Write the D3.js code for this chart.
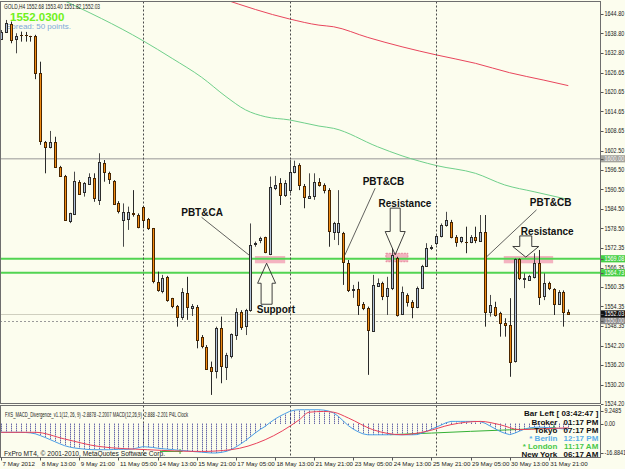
<!DOCTYPE html>
<html>
<head>
<meta charset="utf-8">
<script src="https://cdnjs.cloudflare.com/ajax/libs/d3/7.8.5/d3.min.js"></script>
<style>
  body { margin: 0; background: #fcfdee; }
  svg { display: block; }
</style>
</head>
<body>
<svg id="contenedor"></svg>
<script>
/* ############################## DATOS ############################## */
// velas GOLD H4 (7 May 05:00 -> 1 Jun 13:00)
let aperturas = [1637.0,1639.1,1641.7,1636.9,1638.3,1638.2,1637.8,1637.9,1626.4,1605.3,1603.7,1605.3,1597.5,1594.7,1580.5,1583.1,1592.9,1589.7,1592.2,1594.0,
  1587.3,1598.6,1595.5,1593.2,1586.2,1581.1,1581.3,1583.1,1582.6,1585.2,1581.3,1578.5,1562.0,1558.9,1563.5,1556.9,1554.5,1551.2,1558.6,1554.0,
  1554.3,1544.8,1541.9,1535.5,1534.2,1547.6,1535.7,1538.8,1545.5,1552.7,1548.1,1553.2,1573.8,1574.9,1575.7,1570.8,1591.0,1592.4,1588.8,1590.3,
  1596.0,1598.1,1591.7,1588.0,1588.5,1592.9,1591.9,1590.3,1577.1,1577.1,1577.1,1567.7,1559.4,1559.6,1555.1,1553.8,1546.8,1560.7,1561.5,1557.4,
  1560.0,1569.2,1552.0,1557.9,1555.8,1554.1,1560.1,1566.8,1572.4,1573.9,1576.1,1579.5,1580.5,1575.9,1574.4,1574.4,1574.4,1575.7,1574.7,1577.5,
  1552.7,1554.3,1552.2,1549.1,1548.6,1537.3,1568.9,1562.7,1562.7,1563.5,1567.9,1557.6,1561.7,1559.6,1555.1,1558.7,1552.68];
let maximos = [1639.8,1642.9,1642.4,1638.8,1639.3,1639.2,1638.0,1638.3,1630.0,1605.5,1608.6,1606.8,1597.8,1595.0,1583.3,1596.0,1593.4,1592.8,1595.5,1595.5,
  1601.7,1599.6,1596.0,1593.4,1586.9,1586.2,1585.2,1590.3,1583.1,1585.4,1581.7,1578.6,1565.1,1564.1,1563.8,1557.0,1554.8,1560.0,1563.5,1555.1,
  1554.8,1545.5,1542.4,1537.3,1548.1,1551.2,1540.0,1546.0,1553.8,1553.2,1553.6,1580.0,1574.4,1575.9,1575.9,1594.5,1594.7,1594.0,1593.4,1599.6,
  1599.4,1598.6,1592.2,1595.5,1595.5,1594.0,1592.4,1590.9,1580.5,1590.3,1577.4,1568.7,1561.0,1562.0,1555.7,1554.3,1564.1,1563.0,1562.0,1563.5,
  1572.3,1569.7,1560.5,1558.4,1556.3,1560.5,1567.2,1573.9,1573.3,1576.4,1580.0,1583.6,1581.1,1576.4,1575.9,1579.0,1576.4,1579.0,1582.6,1582.6,
  1557.9,1555.8,1552.7,1550.7,1556.9,1569.2,1569.2,1564.6,1564.1,1570.8,1571.8,1564.6,1562.0,1560.0,1559.4,1559.3,1553.40];
let minimos = [1636.7,1638.9,1635.7,1632.6,1636.2,1636.2,1636.2,1624.6,1604.3,1595.5,1603.2,1597.5,1594.4,1580.8,1580.1,1582.6,1588.8,1588.3,1591.9,1586.7,
  1585.7,1592.9,1592.2,1585.7,1583.1,1572.8,1578.0,1582.1,1578.5,1578.5,1578.0,1561.5,1558.9,1558.4,1555.8,1553.8,1548.1,1550.2,1550.2,1551.4,
  1541.4,1541.4,1534.7,1527.0,1532.1,1530.6,1531.6,1538.3,1544.0,1547.1,1545.5,1552.7,1572.8,1573.9,1570.8,1570.2,1590.3,1585.7,1588.2,1589.3,
  1595.5,1590.3,1584.7,1587.8,1587.3,1591.4,1589.3,1572.8,1574.9,1573.3,1561.0,1558.8,1557.0,1551.7,1553.2,1533.2,1546.5,1560.4,1556.3,1551.7,
  1559.4,1551.2,1551.7,1554.3,1550.7,1553.8,1560.0,1566.6,1571.8,1573.3,1575.7,1579.0,1575.4,1572.8,1573.9,1570.8,1573.9,1573.9,1574.4,1548.1,
  1551.2,1551.2,1545.0,1545.0,1532.6,1537.0,1562.5,1560.0,1562.5,1563.0,1554.8,1556.3,1559.4,1551.7,1554.8,1548.1,1551.82];
let cierres = [1639.2,1641.9,1636.7,1637.9,1638.2,1638.1,1637.7,1626.4,1605.3,1603.7,1605.3,1597.5,1594.7,1581.1,1583.1,1593.2,1589.3,1592.5,1594.3,1587.8,
  1598.9,1595.7,1593.6,1586.2,1583.6,1583.6,1583.4,1582.8,1579.0,1581.3,1578.5,1562.0,1559.4,1563.0,1556.3,1554.3,1551.2,1558.9,1554.3,1554.5,
  1544.0,1541.9,1535.2,1534.2,1547.6,1535.7,1539.3,1545.7,1552.7,1548.1,1553.2,1573.3,1574.0,1575.4,1571.0,1591.4,1591.9,1588.8,1592.4,1596.0,
  1597.9,1591.9,1588.3,1588.6,1592.8,1591.9,1590.3,1577.5,1580.0,1580.0,1568.2,1559.4,1559.6,1554.8,1553.8,1547.1,1561.0,1561.5,1557.4,1560.0,
  1570.2,1551.7,1558.9,1555.8,1554.1,1560.1,1566.8,1572.3,1572.7,1576.1,1579.5,1581.1,1575.9,1574.4,1575.7,1574.3,1575.9,1574.7,1577.5,1552.7,
  1554.8,1551.7,1549.1,1548.4,1537.3,1568.9,1563.0,1563.0,1563.9,1567.9,1557.4,1561.7,1560.0,1555.1,1558.8,1552.4,1552.03];

// medias moviles [barra, precio]
let mediaVerde = [[12,1649.5],[29,1636.5],[35,1631.0],[41,1625.2],[46,1619.2],[50,1615.1],[54,1613.0],[59,1612.0],[65,1610.1],[68,1609.4],
  [77,1603.7],[82,1600.9],[89,1597.9],[97,1595.5],[103,1591.9],[109,1589.8],[116,1587.4]];
let mediaRoja = [[45,1649.6],[59,1643.2],[65,1641.3],[68,1640.8],[75,1637.5],[82,1634.6],[89,1632.1],[97,1629.5],[104,1626.6],[111,1624.3],[116,1622.6]];

// niveles horizontales
let nivelesVerdes = [1569.08, 1564.73];
let nivelRedondo = 1600.00;
let precioBid = 1552.03;
let nivelPunteado = 1550.00;

// eje de precios
let etiquetasPrecio = [1644.80,1638.80,1632.80,1626.65,1620.65,1614.65,1608.65,1602.50,1596.50,1590.50,1584.50,1578.50,
  1572.35,1566.35,1560.35,1554.35,1548.35,1542.20,1536.20,1530.20,1524.20];

// eje de tiempo
let barrasTiempo = [0,8,16,24,32,40,48,56,64,72,80,88,96,104,112];
let etiquetasTiempo = ["7 May 2012","8 May 13:00","9 May 21:00","11 May 05:00","14 May 13:00","15 May 21:00","17 May 05:00",
  "18 May 13:00","21 May 21:00","23 May 05:00","24 May 13:00","25 May 21:00","29 May 05:00","30 May 13:00","31 May 21:00"];
let separadores = [29, 59, 89];

// MACD (principal por barra) y senal [barra, valor]
let macd = [-4.5,-4.5,-4.5,-4.5,-4.5,-4.6,-4.8,-5.3,-6.2,-7.2,-8.3,-9.4,-10.5,-11.5,-12.2,-12.7,-13.0,-13.3,-13.5,-13.6,
  -13.6,-13.6,-13.6,-13.5,-13.4,-13.4,-13.4,-13.2,-12.6,-12.0,-12.2,-12.4,-12.8,-13.1,-13.3,-13.5,-13.8,-14.0,-14.2,-14.5,
  -14.7,-14.9,-15.1,-15.3,-15.3,-15.0,-14.5,-13.6,-12.2,-10.6,-8.8,-6.8,-4.8,-3.0,-1.4,0.6,2.4,3.9,5.2,6.4,
  7.1,7.3,7.3,7.3,7.3,7.3,7.1,6.6,5.6,3.8,1.4,-1.0,-2.8,-4.2,-5.3,-5.8,-5.8,-5.8,-5.8,-5.8,
  -5.7,-5.8,-5.8,-5.8,-5.8,-5.7,-5.0,-4.0,-2.9,-1.8,-0.7,0.5,1.2,1.2,1.2,1.2,1.2,1.2,1.1,0.2,
  -1.2,-2.6,-4.0,-5.0,-5.7,-5.0,-3.9,-2.9,-2.2,-1.9,-1.8,-1.9,-2.1,-2.3,-2.5,-2.7,-2.89];
let senal = [[0,-4.5],[7,-4.5],[13,-8.0],[20,-11.9],[30,-13.6],[41,-14.5],[47,-13.6],[54,-8.4],[61,2.1],[63,6.0],[66,6.4],[68,6.0],
  [71,3.0],[76,-3.1],[82,-5.75],[87,-4.0],[92,-0.5],[98,1.2],[102,-0.5],[106,-3.1],[111,-2.6],[116,-2.2]];
let divergencias = [
  [[32.5,-14.5],[36.6,-14.5]],
  [[79.5,-5.75],[88,-4.9],[96,-4.0],[104,-3.2],[113,-2.2]]
];
let etiquetasMacd = [9.2485, 0.00, -16.8841];

// reloj P4L
let relojNombres = ["Broker","Tokyo","* Berlin","* London","New York"];
let relojHoras = ["01:17 PM","07:17 PM","12:17 PM","11:17 AM","06:17 AM"];

/* ##################### CONFIGURACION AREA DE DIBUJO ##################### */
function getConfig() {
  let width = 625;
  let height = 469;
  let principal = { x0: 0.5, x1: 600.5, y0: 1.5, y1: 403.5 };
  let indicador = { y0: 405.5, y1: 457.5 };
  let container = d3.select("#contenedor").attr("width", width).attr("height", height);
  return { width, height, principal, indicador, container };
} // fin getConfig

function getScales() {
  let xScale = d3.scaleLinear().domain([0, 116]).range([1.1, 568.3]);
  let yScale = d3.scaleLinear().domain([1524.19, 1649.07]).range([404, 0]);
  let yMacd = d3.scaleLinear().domain([-16.8841, 9.2485]).range([456, 406]);
  return { xScale, yScale, yMacd };
} // fin getScales

let FUENTE = "'Liberation Sans', Arial, sans-serif";

/* ############################## FONDO Y MARCOS ############################## */
function dibujarFondo(config) {
  let { container, width, height, principal, indicador } = config;
  container.append("rect").attr("width", width).attr("height", height).attr("fill", "#fcfdee");

  let defs = container.append("defs");
  defs.append("clipPath").attr("id", "clipPrincipal").append("rect")
    .attr("x", principal.x0).attr("y", principal.y0)
    .attr("width", principal.x1 - principal.x0).attr("height", principal.y1 - principal.y0);
  defs.append("clipPath").attr("id", "clipIndicador").append("rect")
    .attr("x", principal.x0).attr("y", indicador.y0)
    .attr("width", principal.x1 - principal.x0).attr("height", indicador.y1 - indicador.y0);
} // fin dibujarFondo

function dibujarMarcos(config) {
  let { container, principal, indicador } = config;
  container.append("rect")
    .attr("x", principal.x0).attr("y", principal.y0)
    .attr("width", principal.x1 - principal.x0).attr("height", principal.y1 - principal.y0)
    .attr("fill", "none").attr("stroke", "#6e6e6e");
  container.append("rect")
    .attr("x", principal.x0).attr("y", indicador.y0)
    .attr("width", principal.x1 - principal.x0).attr("height", indicador.y1 - indicador.y0)
    .attr("fill", "none").attr("stroke", "#6e6e6e");
} // fin dibujarMarcos

/* ############################## PANEL PRINCIPAL ############################## */
function dibujarNiveles(scales, config, capa) {
  let { xScale, yScale } = scales;
  let { principal, indicador } = config;

  // separadores de semana
  config.container.selectAll(".separador").data(separadores).enter()
    .append("line").attr("class", "separador")
    .attr("x1", d => Math.round(xScale(d)) + 0.5).attr("x2", d => Math.round(xScale(d)) + 0.5)
    .attr("y1", principal.y0).attr("y2", indicador.y1)
    .attr("stroke", "#4a4a4a").attr("stroke-dasharray", "2,2");

  // nivel 1600
  capa.append("line")
    .attr("x1", 0).attr("x2", principal.x1)
    .attr("y1", yScale(nivelRedondo)).attr("y2", yScale(nivelRedondo))
    .attr("stroke", "#b9b9b4").attr("stroke-width", 1.6);

  // linea bid y linea punteada
  capa.append("line")
    .attr("x1", 0).attr("x2", principal.x1)
    .attr("y1", Math.round(yScale(precioBid)) + 0.5).attr("y2", Math.round(yScale(precioBid)) + 0.5)
    .attr("stroke", "#cfcfbf");
  capa.append("line")
    .attr("x1", 0).attr("x2", principal.x1)
    .attr("y1", Math.round(yScale(nivelPunteado)) + 0.5).attr("y2", Math.round(yScale(nivelPunteado)) + 0.5)
    .attr("stroke", "#9a9a9a").attr("stroke-dasharray", "2,2");
} // fin dibujarNiveles

function dibujarZonas(scales, capa) {
  let { xScale, yScale } = scales;
  // zonas rosas [barra ini, barra fin, precio alto, precio bajo]
  let zonas = [[51.9, 58.1, 1569.93, 1567.68], [78.7, 83.2, 1570.77, 1568.17], [102.8, 112.9, 1569.93, 1567.68]];
  capa.selectAll(".zona").data(zonas).enter()
    .append("rect").attr("class", "zona")
    .attr("x", d => xScale(d[0])).attr("width", d => xScale(d[1]) - xScale(d[0]))
    .attr("y", d => yScale(d[2])).attr("height", d => yScale(d[3]) - yScale(d[2]))
    .attr("fill", "#f4b3c0")
    .attr("stroke", (d, i) => i == 1 ? "#e78a9c" : "none")
    .attr("stroke-dasharray", "2,1");
} // fin dibujarZonas

function dibujarMedias(scales, capa) {
  let { xScale, yScale } = scales;
  let linea = d3.line().x(d => xScale(d[0])).y(d => yScale(d[1])).curve(d3.curveMonotoneX);
  capa.append("path").datum(mediaVerde).attr("d", linea)
    .attr("fill", "none").attr("stroke", "#6fcf8a").attr("stroke-width", 1);
  capa.append("path").datum(mediaRoja).attr("d", linea)
    .attr("fill", "none").attr("stroke", "#e8455c").attr("stroke-width", 1);
} // fin dibujarMedias

function dibujarLineasVerdes(scales, config, capa) {
  let { yScale } = scales;
  capa.selectAll(".nivelVerde").data(nivelesVerdes).enter()
    .append("line").attr("class", "nivelVerde")
    .attr("x1", 0).attr("x2", config.principal.x1)
    .attr("y1", d => yScale(d)).attr("y2", d => yScale(d))
    .attr("stroke", "#52d452").attr("stroke-width", 2);
} // fin dibujarLineasVerdes

function dibujarCabecera(config) {
  let c = config.container;
  c.append("text").attr("x", 4).attr("y", 9.3)
    .attr("textLength", 96).attr("lengthAdjust", "spacingAndGlyphs")
    .style("font", "7.2px " + FUENTE).attr("fill", "#1a1a1a")
    .text("GOLD,H4  " + aperturas[116].toFixed(2) + " " + maximos[116].toFixed(2) + " " + minimos[116].toFixed(2) + " " + cierres[116].toFixed(2));
  c.append("text").attr("x", 10).attr("y", 20.5)
    .style("font", "bold 11.5px " + FUENTE).attr("fill", "#70f020")
    .text(cierres[116].toFixed(4));
  c.append("text").attr("x", 6).attr("y", 28.5)
    .style("font", "8px " + FUENTE).attr("fill", "#7eaad8")
    .text("Spread: 50 points.");
} // fin dibujarCabecera

function dibujarVelas(scales, capa) {
  let { xScale, yScale } = scales;
  let velas = aperturas.map((o, i) => ({ i: i, o: o, h: maximos[i], l: minimos[i], c: cierres[i] }));

  let grupo = capa.selectAll(".vela").data(velas).enter().append("g").attr("class", "vela");

  // mechas
  grupo.append("line")
    .attr("x1", d => Math.round(xScale(d.i)) + 0.5).attr("x2", d => Math.round(xScale(d.i)) + 0.5)
    .attr("y1", d => yScale(d.h)).attr("y2", d => yScale(d.l))
    .attr("stroke", d => d.c >= d.o ? "#4a4a4a" : "#2a2a2a");

  // cuerpos
  grupo.append("rect")
    .attr("x", d => Math.round(xScale(d.i)) - 0.5)
    .attr("width", 2)
    .attr("y", d => Math.round(yScale(Math.max(d.o, d.c))) + 0.5)
    .attr("height", d => Math.max(0.01, Math.round(Math.abs(yScale(d.o) - yScale(d.c)))))
    .attr("fill", d => d.c >= d.o ? "#b3c3d9" : "#f08a12")
    .attr("stroke", d => d.c >= d.o ? "#2c2c2c" : "#4a2600");
} // fin dibujarVelas

function dibujarAnotaciones(scales, config) {
  let { xScale, yScale } = scales;
  let c = config.container;

  // lineas guia [barra, precio] -> [barra, precio]
  let guias = [[[41.0, 1581.9], [50.9, 1570.0]], [[76.5, 1590.9], [70.3, 1570.2]], [[109.5, 1584.2], [99.3, 1569.7]]];
  c.selectAll(".guia").data(guias).enter().append("line").attr("class", "guia")
    .attr("x1", d => xScale(d[0][0])).attr("y1", d => yScale(d[0][1]))
    .attr("x2", d => xScale(d[1][0])).attr("y2", d => yScale(d[1][1]))
    .attr("stroke", "#3a3a3a").attr("stroke-width", 0.8);

  // flechas: punta en [barra, precio], geometria en pixeles
  let flechas = [
    { b: 54.3, p: 1567.7, dir: -1, cabeza: 20, semiCabeza: 9, semiCuerpo: 5.5, cuerpo: 21 },
    { b: 80.6, p: 1570.3, dir: 1, cabeza: 23.3, semiCabeza: 10, semiCuerpo: 5, cuerpo: 23.4 },
    { b: 107.3, p: 1569.6, dir: 1, cabeza: 10.6, semiCabeza: 13, semiCuerpo: 6, cuerpo: 10.6 }
  ];
  c.selectAll(".flecha").data(flechas).enter().append("path").attr("class", "flecha")
    .attr("d", f => {
      let tx = xScale(f.b), ty = yScale(f.p), s = -f.dir; // s: hacia donde crece la flecha desde la punta
      let yb = ty + s * f.cabeza, ye = yb + s * f.cuerpo;
      return d3.line()([[tx, ty], [tx + f.semiCabeza, yb], [tx + f.semiCuerpo, yb], [tx + f.semiCuerpo, ye],
        [tx - f.semiCuerpo, ye], [tx - f.semiCuerpo, yb], [tx - f.semiCabeza, yb]]) + "Z";
    })
    .attr("fill", "none").attr("stroke", "#2a2a2a").attr("stroke-width", 0.9);

  // textos
  let textos = [
    { t: "PBT&CA", b: 41.1, p: 1583.5 }, { t: "Support", b: 56.2, p: 1553.5 },
    { t: "PBT&CB", b: 78.2, p: 1592.9 }, { t: "Resistance", b: 82.6, p: 1586.2 },
    { t: "PBT&CB", b: 112.4, p: 1586.4 }, { t: "Resistance", b: 111.7, p: 1577.45 }
  ];
  c.selectAll(".nota").data(textos).enter().append("text").attr("class", "nota")
    .attr("x", d => xScale(d.b)).attr("y", d => yScale(d.p)).attr("dy", "0.36em")
    .attr("text-anchor", "middle")
    .style("font", "bold 10px " + FUENTE).attr("fill", "#111")
    .text(d => d.t);
} // fin dibujarAnotaciones

/* ############################## EJES ############################## */
function etiquetaPrecio(c, yy, texto, fondo, color) {
  if (fondo) {
    c.append("rect").attr("x", 601).attr("y", yy - 3.6).attr("width", 24).attr("height", 7.2).attr("fill", fondo);
  }
  c.append("line").attr("x1", 601).attr("x2", 603.5).attr("y1", Math.round(yy) + 0.5).attr("y2", Math.round(yy) + 0.5)
    .attr("stroke", "#555");
  c.append("text").attr("transform", `translate(604.5,${yy + 2.3}) scale(0.84,1)`)
    .style("font", "6.5px " + FUENTE).attr("fill", color).text(texto);
} // fin etiquetaPrecio

function dibujarEjes(scales, config) {
  let { xScale, yScale, yMacd } = scales;
  let c = config.container;

  etiquetasPrecio.forEach(v => etiquetaPrecio(c, yScale(v), v.toFixed(2), null, "#222"));
  etiquetaPrecio(c, yScale(nivelRedondo), nivelRedondo.toFixed(2), "#a3a39c", "#f4f4f4");
  nivelesVerdes.forEach(v => etiquetaPrecio(c, yScale(v), v.toFixed(2), "#45cf45", "#ffffff"));
  etiquetaPrecio(c, yScale(nivelPunteado), nivelPunteado.toFixed(2), "#8a8a8a", "#eeeeee");
  etiquetaPrecio(c, yScale(precioBid), precioBid.toFixed(2), "#111111", "#ffffff");

  // etiquetas del MACD
  etiquetasMacd.forEach(v => {
    let yy = Math.min(Math.max(yMacd(v), 411), 453);
    etiquetaPrecio(c, yy, v == 0 ? "0.00" : String(v), null, "#222");
  });

  // eje de tiempo
  c.selectAll(".tickT").data(barrasTiempo).enter().append("line").attr("class", "tickT")
    .attr("x1", d => Math.round(xScale(d)) + 0.5).attr("x2", d => Math.round(xScale(d)) + 0.5)
    .attr("y1", 457.5).attr("y2", 460.5).attr("stroke", "#555");
  c.selectAll(".etqT").data(barrasTiempo).enter().append("text").attr("class", "etqT")
    .attr("x", d => xScale(d) + 1.5).attr("y", 465.5)
    .style("font", "6.2px " + FUENTE).attr("fill", "#222")
    .text((d, i) => etiquetasTiempo[i]);
} // fin dibujarEjes

/* ############################## INDICADOR MACD ############################## */
function dibujarMacd(scales, config) {
  let { xScale, yMacd } = scales;
  let c = config.container;
  let capa = c.append("g").attr("clip-path", "url(#clipIndicador)");

  // histograma
  capa.selectAll(".hist").data(macd).enter().append("line").attr("class", "hist")
    .attr("x1", (d, i) => Math.round(xScale(i)) + 0.5).attr("x2", (d, i) => Math.round(xScale(i)) + 0.5)
    .attr("y1", yMacd(0)).attr("y2", d => yMacd(d))
    .attr("stroke", "#27278c").attr("stroke-dasharray", "1,1");

  // divergencias
  divergencias.forEach(div => {
    capa.append("path").datum(div)
      .attr("d", d3.line().x(d => xScale(d[0])).y(d => yMacd(d[1])))
      .attr("fill", "none").attr("stroke", "#34b034");
    let u = div[div.length - 1];
    capa.append("path")
      .attr("d", `M${xScale(u[0]) - 2.5},${yMacd(u[1])}h5M${xScale(u[0])},${yMacd(u[1]) - 2.5}v5`)
      .attr("stroke", "#34b034");
  });

  // linea principal
  capa.append("path").datum(macd)
    .attr("d", d3.line().x((d, i) => xScale(i)).y(d => yMacd(d)))
    .attr("fill", "none").attr("stroke", "#4a9ee6").attr("stroke-width", 1);

  // senal
  capa.append("path").datum(senal)
    .attr("d", d3.line().x(d => xScale(d[0])).y(d => yMacd(d[1])).curve(d3.curveMonotoneX))
    .attr("fill", "none").attr("stroke", "#e8405a").attr("stroke-width", 1);

  // titulo del indicador
  c.append("text").attr("x", 5).attr("y", 416.8)
    .attr("textLength", 183).attr("lengthAdjust", "spacingAndGlyphs")
    .style("font", "7.2px " + FUENTE).attr("fill", "#1a1a1a")
    .text("FXS_MACD_Divergence_v1.1(12, 26, 9) -2.8878 -2.2007  MACD(12,26,9) -2.888 -2.201  P4L Clock");
  c.append("text").attr("x", 4).attr("y", 455.5)
    .attr("textLength", 161).attr("lengthAdjust", "spacingAndGlyphs")
    .style("font", "7px " + FUENTE).attr("fill", "#1a1a1a")
    .text("FxPro MT4, \u00a9 2001-2010, MetaQuotes Software Corp.");

  // reloj
  c.append("text").attr("x", 598.3).attr("y", 416).attr("text-anchor", "end")
    .style("font", "bold 8px " + FUENTE).attr("fill", "#111").text("Bar Left [ 03:42:47 ]");
  let colores = ["#111", "#111", "#5aaeea", "#48c848", "#111"];
  relojNombres.forEach((n, i) => {
    let yy = 425.3 + i * 7.85;
    c.append("text").attr("x", 557.3).attr("y", yy).attr("text-anchor", "end")
      .style("font", "bold 8px " + FUENTE).attr("fill", colores[i]).text(n);
    c.append("text").attr("x", 598.3).attr("y", yy).attr("text-anchor", "end")
      .style("font", "bold 8px " + FUENTE).attr("fill", colores[i]).text(relojHoras[i]);
  });
} // fin dibujarMacd

/* ############################## DIBUJAR TODO ############################## */
function dibujarChart() {
  let config = getConfig();
  let scales = getScales();
  dibujarFondo(config);
  let capa = config.container.append("g").attr("clip-path", "url(#clipPrincipal)");
  dibujarNiveles(scales, config, capa);
  dibujarZonas(scales, capa);
  dibujarMedias(scales, capa);
  dibujarLineasVerdes(scales, config, capa);
  dibujarCabecera(config);
  let capaVelas = config.container.append("g").attr("clip-path", "url(#clipPrincipal)");
  dibujarVelas(scales, capaVelas);
  dibujarAnotaciones(scales, config);
  dibujarMacd(scales, config);
  dibujarMarcos(config);
  dibujarEjes(scales, config);
} // fin dibujarChart

dibujarChart();
</script>
</body>
</html>
